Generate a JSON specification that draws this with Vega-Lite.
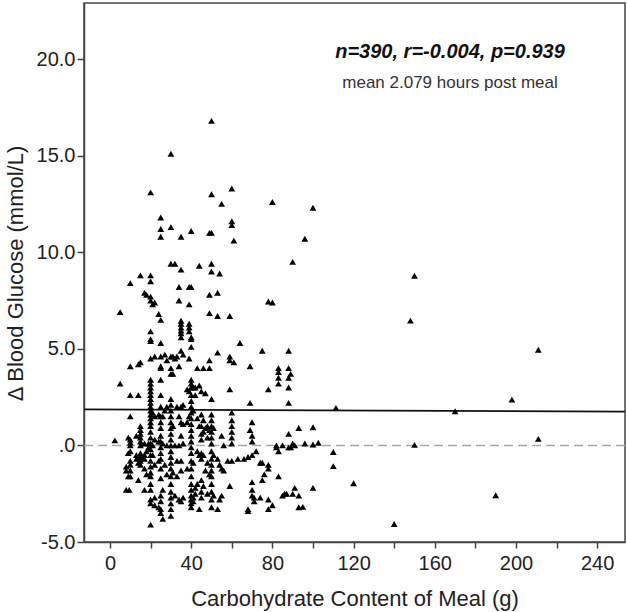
{
  "$schema": "https://vega.github.io/schema/vega-lite/v6.json",
  "autosize": {"type": "none"},
  "padding": {"left": 84, "top": 3, "right": 2, "bottom": 70},
  "width": 541,
  "height": 539,
  "background": "white",
  "config": {
    "font": "Liberation Sans",
    "view": {"stroke": "#444", "strokeWidth": 1.5},
    "axis": {"grid": false, "domainColor": "#444", "domainWidth": 1.5, "tickColor": "#444", "tickWidth": 1.5, "labelColor": "#222", "titleColor": "#222", "labelFont": "Liberation Sans", "titleFont": "Liberation Sans", "labelFontSize": 20, "titleFontSize": 22, "titleFontWeight": "normal"}
  },
  "datasets": {
    "pts": [
      {"carb":2.4,"dbg":0.26},{"carb":5,"dbg":3.2},{"carb":5,"dbg":6.9},
      {"carb":8,"dbg":-1.3},{"carb":8,"dbg":-2.3},{"carb":8,"dbg":-1.1},
      {"carb":9,"dbg":-0.4},{"carb":9.5,"dbg":-2.3},{"carb":9,"dbg":0.4},{"carb":9,"dbg":-1.6},
      {"carb":10,"dbg":8.4},{"carb":10,"dbg":4.1},{"carb":10,"dbg":2.6},{"carb":10,"dbg":1.5},{"carb":10,"dbg":0.3},{"carb":10,"dbg":0.0},{"carb":10,"dbg":-0.3},{"carb":10,"dbg":-0.8},{"carb":10,"dbg":-1.0},{"carb":10,"dbg":-1.3},{"carb":10,"dbg":-1.6},{"carb":10,"dbg":0.15},
      {"carb":13,"dbg":-0.7},{"carb":13,"dbg":-0.5},{"carb":13,"dbg":0.5},
      {"carb":14,"dbg":2.6},{"carb":14,"dbg":4.2},{"carb":14,"dbg":-1.8},{"carb":14,"dbg":-0.9},
      {"carb":15,"dbg":8.8},{"carb":15,"dbg":4.3},{"carb":15,"dbg":1.0},{"carb":15,"dbg":0.8},{"carb":15,"dbg":0.6},{"carb":15,"dbg":0.4},{"carb":15,"dbg":0.2},{"carb":15,"dbg":0.0},{"carb":15,"dbg":-0.4},{"carb":15,"dbg":-0.6},{"carb":15,"dbg":-0.8},{"carb":15,"dbg":-1.0},
      {"carb":17,"dbg":7.9},{"carb":17,"dbg":-0.5},{"carb":17,"dbg":-0.7},{"carb":17,"dbg":-2.3},{"carb":17,"dbg":-1.2},{"carb":17,"dbg":0.1},
      {"carb":18,"dbg":7.8},{"carb":18,"dbg":-1.5},{"carb":18,"dbg":-0.3},
      {"carb":19,"dbg":0.1},{"carb":19,"dbg":-0.1},
      {"carb":20,"dbg":13.1},{"carb":20,"dbg":8.8},{"carb":20,"dbg":8.5},{"carb":20,"dbg":7.7},{"carb":20,"dbg":7.5},{"carb":20,"dbg":5.9},{"carb":20,"dbg":5.5},{"carb":20,"dbg":5.4},{"carb":20,"dbg":4.5},{"carb":20,"dbg":3.4},{"carb":20,"dbg":3.2},{"carb":20,"dbg":3.0},{"carb":20,"dbg":2.8},{"carb":20,"dbg":2.6},{"carb":20,"dbg":2.4},{"carb":20,"dbg":2.2},{"carb":20,"dbg":2.0},{"carb":20,"dbg":1.8},{"carb":20,"dbg":1.6},{"carb":20,"dbg":1.4},{"carb":20,"dbg":1.2},{"carb":20,"dbg":1.0},{"carb":20,"dbg":0.7},{"carb":20,"dbg":0.4},{"carb":20,"dbg":0.1},{"carb":20,"dbg":-0.2},{"carb":20,"dbg":-0.5},{"carb":20,"dbg":-0.8},{"carb":20,"dbg":-1.1},{"carb":20,"dbg":-1.4},{"carb":20,"dbg":-1.6},{"carb":20,"dbg":-2.0},{"carb":20,"dbg":-2.3},{"carb":20,"dbg":-2.8},{"carb":20,"dbg":-3.0},{"carb":20,"dbg":-4.1},
      {"carb":21,"dbg":7.3},{"carb":21,"dbg":1.7},{"carb":21,"dbg":0.0},{"carb":21,"dbg":-0.5},
      {"carb":22,"dbg":7.4},{"carb":22,"dbg":4.6},{"carb":22,"dbg":1.5},{"carb":22,"dbg":0.3},{"carb":22,"dbg":-1.0},{"carb":22,"dbg":-2.7},{"carb":22,"dbg":-3.1},
      {"carb":24,"dbg":6.8},{"carb":24,"dbg":1.6},{"carb":24,"dbg":0.2},{"carb":24,"dbg":-0.8},{"carb":24,"dbg":-3.2},
      {"carb":25,"dbg":11.8},{"carb":25,"dbg":11.2},{"carb":25,"dbg":10.8},{"carb":25,"dbg":6.5},{"carb":25,"dbg":5.3},{"carb":25,"dbg":4.6},{"carb":25,"dbg":4.1},{"carb":25,"dbg":4.0},{"carb":25,"dbg":3.4},{"carb":25,"dbg":2.6},{"carb":25,"dbg":2.0},{"carb":25,"dbg":1.5},{"carb":25,"dbg":1.2},{"carb":25,"dbg":0.9},{"carb":25,"dbg":0.5},{"carb":25,"dbg":0.2},{"carb":25,"dbg":-0.1},{"carb":25,"dbg":-0.4},{"carb":25,"dbg":-0.7},{"carb":25,"dbg":-1.2},{"carb":25,"dbg":-1.7},{"carb":25,"dbg":-2.6},{"carb":25,"dbg":-2.9},{"carb":25,"dbg":-3.3},{"carb":25,"dbg":-3.5},
      {"carb":26,"dbg":1.5},{"carb":26,"dbg":-3.8},{"carb":26,"dbg":0.1},{"carb":26,"dbg":-2.3},
      {"carb":27,"dbg":4.7},{"carb":27,"dbg":1.8},{"carb":27,"dbg":-1.0},
      {"carb":28,"dbg":4.4},{"carb":28,"dbg":2.0},{"carb":28,"dbg":0.0},{"carb":28,"dbg":-1.5},
      {"carb":30,"dbg":15.1},{"carb":30,"dbg":11.3},{"carb":30,"dbg":9.4},{"carb":30,"dbg":4.6},{"carb":30,"dbg":4.0},{"carb":30,"dbg":3.7},{"carb":30,"dbg":2.4},{"carb":30,"dbg":2.1},{"carb":30,"dbg":1.8},{"carb":30,"dbg":1.5},{"carb":30,"dbg":1.2},{"carb":30,"dbg":0.9},{"carb":30,"dbg":0.6},{"carb":30,"dbg":0.3},{"carb":30,"dbg":0.0},{"carb":30,"dbg":-0.3},{"carb":30,"dbg":-0.6},{"carb":30,"dbg":-0.9},{"carb":30,"dbg":-1.2},{"carb":30,"dbg":-1.6},{"carb":30,"dbg":-2.0},{"carb":30,"dbg":-2.4},{"carb":30,"dbg":-2.7},{"carb":30,"dbg":-3.0},{"carb":30,"dbg":-3.3},{"carb":30,"dbg":-3.65},
      {"carb":31,"dbg":4.6},{"carb":31,"dbg":3.7},{"carb":31,"dbg":1.0},{"carb":31,"dbg":-1.4},
      {"carb":32,"dbg":9.4},{"carb":32,"dbg":4.5},{"carb":32,"dbg":0.0},{"carb":32,"dbg":-2.6},
      {"carb":33,"dbg":4.6},{"carb":33,"dbg":2.0},{"carb":33,"dbg":-0.8},{"carb":33,"dbg":-1.6},
      {"carb":34,"dbg":8.2},{"carb":34,"dbg":7.5},{"carb":34,"dbg":4.1},{"carb":34,"dbg":1.5},{"carb":34,"dbg":0.0},{"carb":34,"dbg":-2.8},
      {"carb":35,"dbg":10.8},{"carb":35,"dbg":9.1},{"carb":35,"dbg":6.45},{"carb":35,"dbg":6.3},{"carb":35,"dbg":6.1},{"carb":35,"dbg":5.95},{"carb":35,"dbg":5.8},{"carb":35,"dbg":5.6},{"carb":35,"dbg":4.9},{"carb":35,"dbg":2.0},{"carb":35,"dbg":1.2},{"carb":35,"dbg":0.5},{"carb":35,"dbg":-0.8},{"carb":35,"dbg":-1.3},{"carb":35,"dbg":-2.9},
      {"carb":36,"dbg":4.7},{"carb":36,"dbg":2.1},{"carb":36,"dbg":1.1},{"carb":36,"dbg":0.1},{"carb":36,"dbg":-2.7},
      {"carb":38,"dbg":2.9},{"carb":38,"dbg":1.2},{"carb":38,"dbg":-1.2},
      {"carb":39,"dbg":8.2},{"carb":39,"dbg":7.3},{"carb":39,"dbg":6.3},{"carb":39,"dbg":6.1},{"carb":39,"dbg":5.9},{"carb":39,"dbg":4.5},{"carb":39,"dbg":2.8},{"carb":39,"dbg":1.5},
      {"carb":40,"dbg":11.1},{"carb":40,"dbg":8.2},{"carb":40,"dbg":5.6},{"carb":40,"dbg":5.5},{"carb":40,"dbg":5.1},{"carb":40,"dbg":3.4},{"carb":40,"dbg":3.2},{"carb":40,"dbg":3.0},{"carb":40,"dbg":2.6},{"carb":40,"dbg":2.3},{"carb":40,"dbg":2.0},{"carb":40,"dbg":1.7},{"carb":40,"dbg":1.4},{"carb":40,"dbg":1.1},{"carb":40,"dbg":0.8},{"carb":40,"dbg":0.5},{"carb":40,"dbg":0.2},{"carb":40,"dbg":-0.1},{"carb":40,"dbg":-0.4},{"carb":40,"dbg":-0.8},{"carb":40,"dbg":-1.2},{"carb":40,"dbg":-1.6},{"carb":40,"dbg":-2.0},{"carb":40,"dbg":-2.3},{"carb":40,"dbg":-2.6},{"carb":40,"dbg":-2.8},{"carb":40,"dbg":-3.0},{"carb":40,"dbg":-3.2},
      {"carb":41,"dbg":3.0},{"carb":41,"dbg":1.8},{"carb":41,"dbg":-0.9},{"carb":41,"dbg":-2.7},{"carb":41,"dbg":-2.9},
      {"carb":42,"dbg":2.6},{"carb":42,"dbg":3.0},{"carb":42,"dbg":-2.2},{"carb":42,"dbg":-2.5},
      {"carb":43,"dbg":4.0},{"carb":43,"dbg":1.4},{"carb":43,"dbg":-0.3},{"carb":43,"dbg":-2.0},
      {"carb":44,"dbg":9.3},{"carb":44,"dbg":3.1},{"carb":44,"dbg":1.0},{"carb":44,"dbg":-3.3},{"carb":44,"dbg":-0.5},
      {"carb":45,"dbg":2.8},{"carb":45,"dbg":1.6},{"carb":45,"dbg":1.0},{"carb":45,"dbg":0.6},{"carb":45,"dbg":0.3},{"carb":45,"dbg":-0.4},{"carb":45,"dbg":-0.7},{"carb":45,"dbg":-1.8},{"carb":45,"dbg":-2.4},{"carb":45,"dbg":-2.7},
      {"carb":46,"dbg":4.0},{"carb":46,"dbg":1.3},{"carb":46,"dbg":0.7},{"carb":46,"dbg":-0.5},{"carb":46,"dbg":-2.1},
      {"carb":47,"dbg":2.7},{"carb":47,"dbg":0.9},{"carb":47,"dbg":-1.3},
      {"carb":48,"dbg":1.0},{"carb":48,"dbg":0.4},{"carb":48,"dbg":-0.9},{"carb":48,"dbg":-2.5},
      {"carb":49,"dbg":11.0},{"carb":49,"dbg":7.8},{"carb":49,"dbg":6.85},{"carb":49,"dbg":4.4},{"carb":49,"dbg":4.0},{"carb":49,"dbg":0.8},{"carb":49,"dbg":-1.5},
      {"carb":50,"dbg":16.8},{"carb":50,"dbg":13.0},{"carb":50,"dbg":11.0},{"carb":50,"dbg":9.4},{"carb":50,"dbg":9.0},{"carb":50,"dbg":2.4},{"carb":50,"dbg":1.6},{"carb":50,"dbg":1.3},{"carb":50,"dbg":1.0},{"carb":50,"dbg":0.7},{"carb":50,"dbg":0.4},{"carb":50,"dbg":0.1},{"carb":50,"dbg":-0.3},{"carb":50,"dbg":-0.7},{"carb":50,"dbg":-1.0},{"carb":50,"dbg":-1.3},{"carb":50,"dbg":-1.6},{"carb":50,"dbg":-2.0},{"carb":50,"dbg":-2.4},{"carb":50,"dbg":-2.8},{"carb":50,"dbg":-3.2},
      {"carb":51,"dbg":0.9},{"carb":51,"dbg":-0.5},{"carb":51,"dbg":-2.6},
      {"carb":53,"dbg":7.9},{"carb":53,"dbg":6.7},{"carb":53,"dbg":4.8},{"carb":53,"dbg":-0.7},{"carb":53,"dbg":-3.3},
      {"carb":54,"dbg":8.9},{"carb":54,"dbg":-1.0},{"carb":54,"dbg":-2.8},
      {"carb":55,"dbg":12.5},{"carb":55,"dbg":0.5},{"carb":55,"dbg":-1.2},{"carb":55,"dbg":-2.6},
      {"carb":56,"dbg":0.0},{"carb":56,"dbg":-1.3},
      {"carb":58,"dbg":-0.8},
      {"carb":59,"dbg":6.7},{"carb":59,"dbg":4.6},{"carb":59,"dbg":4.4},{"carb":59,"dbg":2.9},{"carb":59,"dbg":-2.1},
      {"carb":60,"dbg":13.3},{"carb":60,"dbg":11.6},{"carb":60,"dbg":11.4},{"carb":60,"dbg":1.7},{"carb":60,"dbg":1.3},{"carb":60,"dbg":1.0},{"carb":60,"dbg":0.7},{"carb":60,"dbg":0.4},{"carb":60,"dbg":0.1},{"carb":60,"dbg":-0.8},
      {"carb":61,"dbg":10.6},{"carb":61,"dbg":4.3},
      {"carb":63,"dbg":-0.7},{"carb":64,"dbg":5.3},{"carb":66,"dbg":-0.7},
      {"carb":68,"dbg":-0.6},{"carb":68,"dbg":-3.3},{"carb":68,"dbg":-3.4},
      {"carb":69,"dbg":4.1},{"carb":69,"dbg":2.2},{"carb":69,"dbg":0.8},
      {"carb":70,"dbg":1.2},{"carb":70,"dbg":0.5},{"carb":70,"dbg":0.2},{"carb":70,"dbg":-0.5},{"carb":70,"dbg":-1.9},{"carb":70,"dbg":-2.3},{"carb":70,"dbg":-2.6},
      {"carb":71,"dbg":-2.7},{"carb":71,"dbg":-2.9},{"carb":72,"dbg":-0.3},
      {"carb":74,"dbg":-0.9},{"carb":74,"dbg":-2.7},
      {"carb":75,"dbg":4.9},{"carb":75,"dbg":-0.9},{"carb":75,"dbg":-1.8},{"carb":76,"dbg":-1.5},
      {"carb":78,"dbg":7.45},{"carb":78,"dbg":2.9},{"carb":78,"dbg":-1.0},{"carb":78,"dbg":-1.2},{"carb":78,"dbg":-2.8},{"carb":78,"dbg":-3.3},
      {"carb":80,"dbg":12.6},{"carb":80,"dbg":7.4},{"carb":80,"dbg":-3.1},
      {"carb":82,"dbg":-0.1},{"carb":82,"dbg":0.0},
      {"carb":83,"dbg":4.0},{"carb":83,"dbg":3.8},{"carb":83,"dbg":3.5},{"carb":83,"dbg":3.2},{"carb":83,"dbg":-1.6},{"carb":83,"dbg":-0.3},
      {"carb":85,"dbg":-2.6},{"carb":86,"dbg":-2.5},{"carb":85,"dbg":0.0},{"carb":87,"dbg":-2.5},
      {"carb":88,"dbg":4.9},{"carb":88,"dbg":4.0},{"carb":88,"dbg":3.5},{"carb":88,"dbg":3.0},{"carb":88,"dbg":2.2},{"carb":88,"dbg":0.6},{"carb":88,"dbg":-0.1},
      {"carb":89,"dbg":3.7},{"carb":89,"dbg":-0.1},
      {"carb":90,"dbg":9.5},{"carb":90,"dbg":0.1},{"carb":90,"dbg":-2.5},{"carb":91,"dbg":0.0},{"carb":91,"dbg":-2.2},
      {"carb":93,"dbg":-3.2},{"carb":93,"dbg":0.9},{"carb":93,"dbg":-2.6},{"carb":95,"dbg":-3.18},
      {"carb":96,"dbg":10.7},{"carb":96,"dbg":0.1},
      {"carb":100,"dbg":12.3},{"carb":100,"dbg":0.94},{"carb":100,"dbg":0.05},{"carb":100,"dbg":-2.2},{"carb":102.6,"dbg":0.14},
      {"carb":110,"dbg":-0.34},{"carb":110,"dbg":-1.07},{"carb":111.3,"dbg":1.94},{"carb":120,"dbg":-1.96},
      {"carb":140,"dbg":-4.07},{"carb":148,"dbg":6.46},{"carb":150,"dbg":8.78},{"carb":150,"dbg":0.03},
      {"carb":170,"dbg":1.77},{"carb":190,"dbg":-2.58},{"carb":198,"dbg":2.37},{"carb":211,"dbg":4.95},{"carb":211,"dbg":0.34}
    ],
    "fit": [{"carb": -12.8, "dbg": 1.86}, {"carb": 253.7, "dbg": 1.75}],
    "zero": [{"dbg": 0}],
    "stat": [{"carb": 167.5, "dbg": 20.05, "txt": "n=390, r=-0.004, p=0.939"}],
    "sub": [{"carb": 167.5, "dbg": 18.5, "txt": "mean 2.079 hours post meal"}]
  },
  "layer": [
    {
      "data": {"name": "zero"},
      "mark": {"type": "rule", "color": "#a8a8a8", "strokeWidth": 1.5, "strokeDash": [9, 5]},
      "encoding": {"y": {"field": "dbg", "type": "quantitative"}}
    },
    {
      "data": {"name": "fit"},
      "mark": {"type": "line", "color": "#111", "strokeWidth": 1.8},
      "encoding": {
        "x": {"field": "carb", "type": "quantitative"},
        "y": {"field": "dbg", "type": "quantitative"}
      }
    },
    {
      "data": {"name": "pts"},
      "mark": {"type": "point", "shape": "triangle-up", "filled": true, "color": "#000", "size": 46, "opacity": 1},
      "encoding": {
        "x": {"field": "carb", "type": "quantitative",
          "scale": {"domain": [-12.8, 253.7], "nice": false, "zero": false},
          "axis": {"values": [0, 20, 40, 60, 80, 100, 120, 140, 160, 180, 200, 220, 240], "labelExpr": "datum.value % 40 == 0 ? format(datum.value, 'd') : ''", "tickSize": 6, "labelPadding": 5, "title": "Carbohydrate Content of Meal (g)", "titleY": 63, "titleBaseline": "alphabetic"}},
        "y": {"field": "dbg", "type": "quantitative",
          "scale": {"domain": [-5, 22.9], "nice": false, "zero": false},
          "axis": {"values": [-5, 0, 5, 10, 15, 20], "labelExpr": "datum.value == 0 ? '.0' : (datum.value < 0 ? '-' + format(-datum.value, '.1f') : format(datum.value, '.1f'))", "tickSize": 7, "labelPadding": 2, "title": "\u0394 Blood Glucose (mmol/L)", "titleX": -62, "titleY": 270, "titleAngle": -90, "titleAlign": "center", "titleBaseline": "alphabetic"}}
      }
    },
    {
      "data": {"name": "stat"},
      "mark": {"type": "text", "align": "center", "baseline": "alphabetic", "font": "Liberation Sans", "fontSize": 20, "fontWeight": "bold", "fontStyle": "italic", "color": "#111"},
      "encoding": {
        "x": {"field": "carb", "type": "quantitative"},
        "y": {"field": "dbg", "type": "quantitative"},
        "text": {"field": "txt"}
      }
    },
    {
      "data": {"name": "sub"},
      "mark": {"type": "text", "align": "center", "baseline": "alphabetic", "font": "Liberation Sans", "fontSize": 17, "color": "#333"},
      "encoding": {
        "x": {"field": "carb", "type": "quantitative"},
        "y": {"field": "dbg", "type": "quantitative"},
        "text": {"field": "txt"}
      }
    }
  ]
}
